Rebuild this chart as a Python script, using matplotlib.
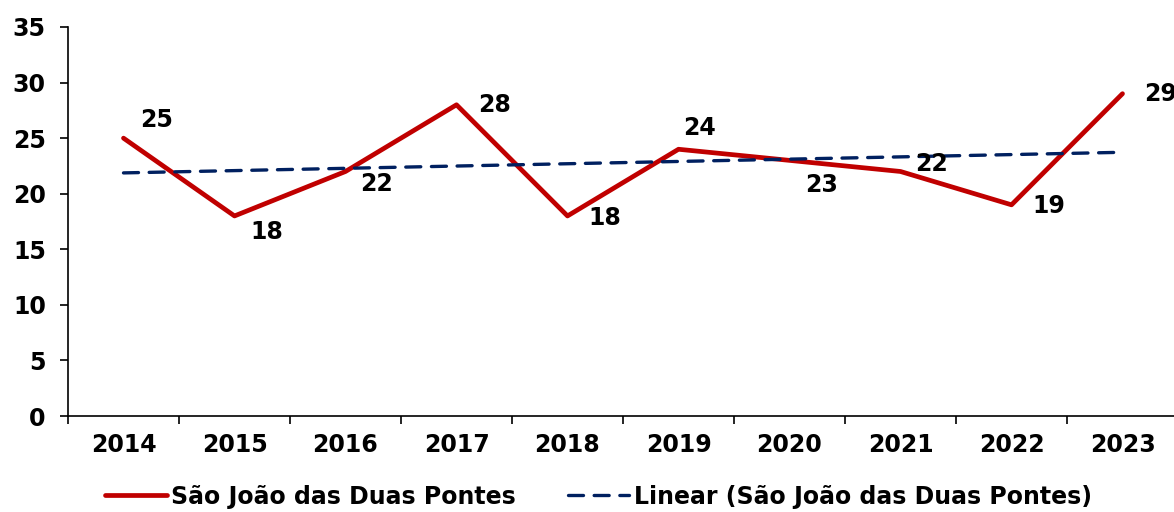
import numpy as np
import matplotlib.pyplot as plt

# Dados
anos = ["2014", "2015", "2016", "2017", "2018", "2019", "2020", "2021", "2022", "2023"]
valores = [25, 18, 22, 28, 18, 24, 23, 22, 19, 29]
serie = "São João das Duas Pontes"

# deslocamento dos rótulos (pixels)
offsets = [(33, 18), (32, -16), (31, -13), (38, 0), (37, -2),
           (21, 21), (32, -25), (31, 7), (37, -1), (38, 0)]

x = np.arange(len(anos))
coef = np.polyfit(x, valores, 1)
tendencia = np.polyval(coef, x)

fig = plt.figure(figsize=(11.74, 5.12), dpi=100)
ax = fig.add_axes([68 / 1174, 96 / 512, 1110 / 1174, 389 / 512])

ax.plot(x, valores, color="#C00000", linewidth=3.4, label=serie, solid_capstyle="round")
ax.plot(x, tendencia, color="#002060", linewidth=2.4, linestyle=(0, (4.5, 3.2)),
        label=f"Linear ({serie})", dash_capstyle="round")

for xi, v, (dx, dy) in zip(x, valores, offsets):
    ax.annotate(str(v), (xi, v), xytext=(dx, dy), textcoords="offset pixels",
                ha="center", va="center", fontsize=17, fontweight="bold",
                annotation_clip=False)

ax.set_xlim(-0.5, 9.5)
ax.set_ylim(0, 35)
ax.set_yticks(range(0, 36, 5))
ax.set_xticks(np.arange(-0.5, 10, 1))
ax.set_xticklabels([])
ax.set_xticks(x, minor=True)
ax.set_xticklabels(anos, minor=True)
ax.tick_params(axis="x", which="minor", length=0, pad=12, labelsize=17)
ax.tick_params(axis="x", which="major", length=6, width=1.2, direction="out")
ax.tick_params(axis="y", length=6, width=1.2, labelsize=17, pad=10)
for lbl in ax.get_xticklabels(minor=True) + ax.get_yticklabels():
    lbl.set_fontweight("bold")

ax.spines["top"].set_visible(False)
ax.spines["right"].set_visible(False)
ax.spines["left"].set_linewidth(1.2)
ax.spines["bottom"].set_linewidth(1.2)

leg = fig.legend(loc="center", bbox_to_anchor=(0.51, 0.03), ncol=2, frameon=False,
                 prop={"size": 17, "weight": "bold"}, handlelength=2.6,
                 columnspacing=2.2, handletextpad=0.2)

fig.savefig("out.png", dpi=100)
